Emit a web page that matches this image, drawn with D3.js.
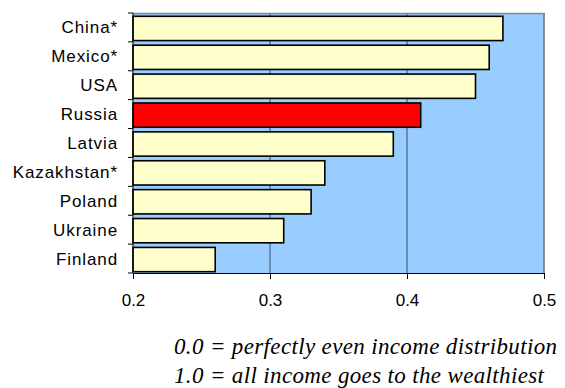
<!DOCTYPE html>
<html>
<head>
<meta charset="utf-8">
<script src="https://cdn.jsdelivr.net/npm/d3@7.9.0/dist/d3.min.js"></script>
<style>
  body { margin: 0; background: #fff; }
  svg { display: block; }
  .tick text, .ylabel { font-family: "Liberation Sans", Arial, sans-serif; font-size: 17px; fill: #000; }
  .ylabel { letter-spacing: 0.9px; }
  .note { font-family: "Liberation Serif", "Times New Roman", serif; font-style: italic; font-size: 23px; letter-spacing: 0.35px; }
</style>
</head>
<body>
<svg width="565" height="388"></svg>
<script>
// Gini coefficient by country
const countries = ['China*', 'Mexico*', 'USA', 'Russia', 'Latvia', 'Kazakhstan*', 'Poland', 'Ukraine', 'Finland'];
const gini = [0.47, 0.46, 0.45, 0.41, 0.39, 0.34, 0.33, 0.31, 0.26];
const xTicks = [0.2, 0.3, 0.4, 0.5];
const highlight = 'Russia';
const notes = ['0.0 = perfectly even income distribution', '1.0 = all income goes to the wealthiest'];

const margin = { top: 13, right: 21, bottom: 115, left: 133 };
const svg = d3.select('svg');
const width = +svg.attr('width') - margin.left - margin.right;
const height = +svg.attr('height') - margin.top - margin.bottom;

const g = svg.append('g').attr('transform', `translate(${margin.left},${margin.top})`);

let x = d3.scaleLinear().domain([0.2, 0.5]).range([0, width]);
let y = d3.scaleBand().domain(countries).range([0, height]).paddingInner(0.16).paddingOuter(0.08);

// plot background
g.append('rect')
    .attr('width', width).attr('height', height)
    .attr('fill', '#99ccff');

// gridlines
g.selectAll('line.grid')
    .data(xTicks.slice(1))
    .join('line')
    .attr('class', 'grid')
    .attr('x1', d => x(d)).attr('x2', d => x(d))
    .attr('y1', 0).attr('y2', height)
    .attr('stroke', '#3a4a66').attr('stroke-width', 1);

// plot border (top/right)
g.append('path')
    .attr('d', `M0,0.5H${width}V${height}`)
    .attr('fill', 'none').attr('stroke', '#888').attr('stroke-width', 1.5);

// bars
g.selectAll('rect.bar')
    .data(countries)
    .join('rect')
    .attr('class', 'bar')
    .attr('x', x(0.2))
    .attr('y', d => y(d) + 1)
    .attr('width', (d, i) => x(gini[i]) - x(0.2))
    .attr('height', y.bandwidth())
    .attr('fill', d => d === highlight ? '#ff0000' : '#ffffcc')
    .attr('stroke', '#000').attr('stroke-width', 1.6);

// x axis
const xAxis = g.append('g')
    .attr('transform', `translate(0,${height})`)
    .call(d3.axisBottom(x).tickValues(xTicks).tickFormat(d3.format('.1f')).tickSizeOuter(0).tickSize(6).tickPadding(15));

xAxis.select('.domain').attr('stroke', '#000');
xAxis.selectAll('.tick line').attr('stroke', '#000');

// y axis: ticks on category boundaries, labels centered in bands
const yEdges = countries.map((d, i) => i * height / countries.length).concat([height]);
const yAxis = g.append('g');
yAxis.append('line')
    .attr('x1', 0).attr('x2', 0).attr('y1', 0).attr('y2', height)
    .attr('stroke', '#000');
yAxis.selectAll('line.edge')
    .data(yEdges)
    .join('line')
    .attr('class', 'edge')
    .attr('x1', -5).attr('x2', 0)
    .attr('y1', d => d).attr('y2', d => d)
    .attr('stroke', '#000');
yAxis.selectAll('text')
    .data(countries)
    .join('text')
    .attr('class', 'ylabel')
    .attr('x', -15)
    .attr('y', (d, i) => (yEdges[i] + yEdges[i + 1]) / 2)
    .attr('dy', '0.35em')
    .attr('text-anchor', 'end')
    .text(d => d);

// footnote, left-aligned
svg.selectAll('text.note')
    .data(notes)
    .join('text')
    .attr('class', 'note')
    .attr('x', 174)
    .attr('y', (d, i) => 354 + i * 29)
    .text(d => d);
</script>
</body>
</html>
